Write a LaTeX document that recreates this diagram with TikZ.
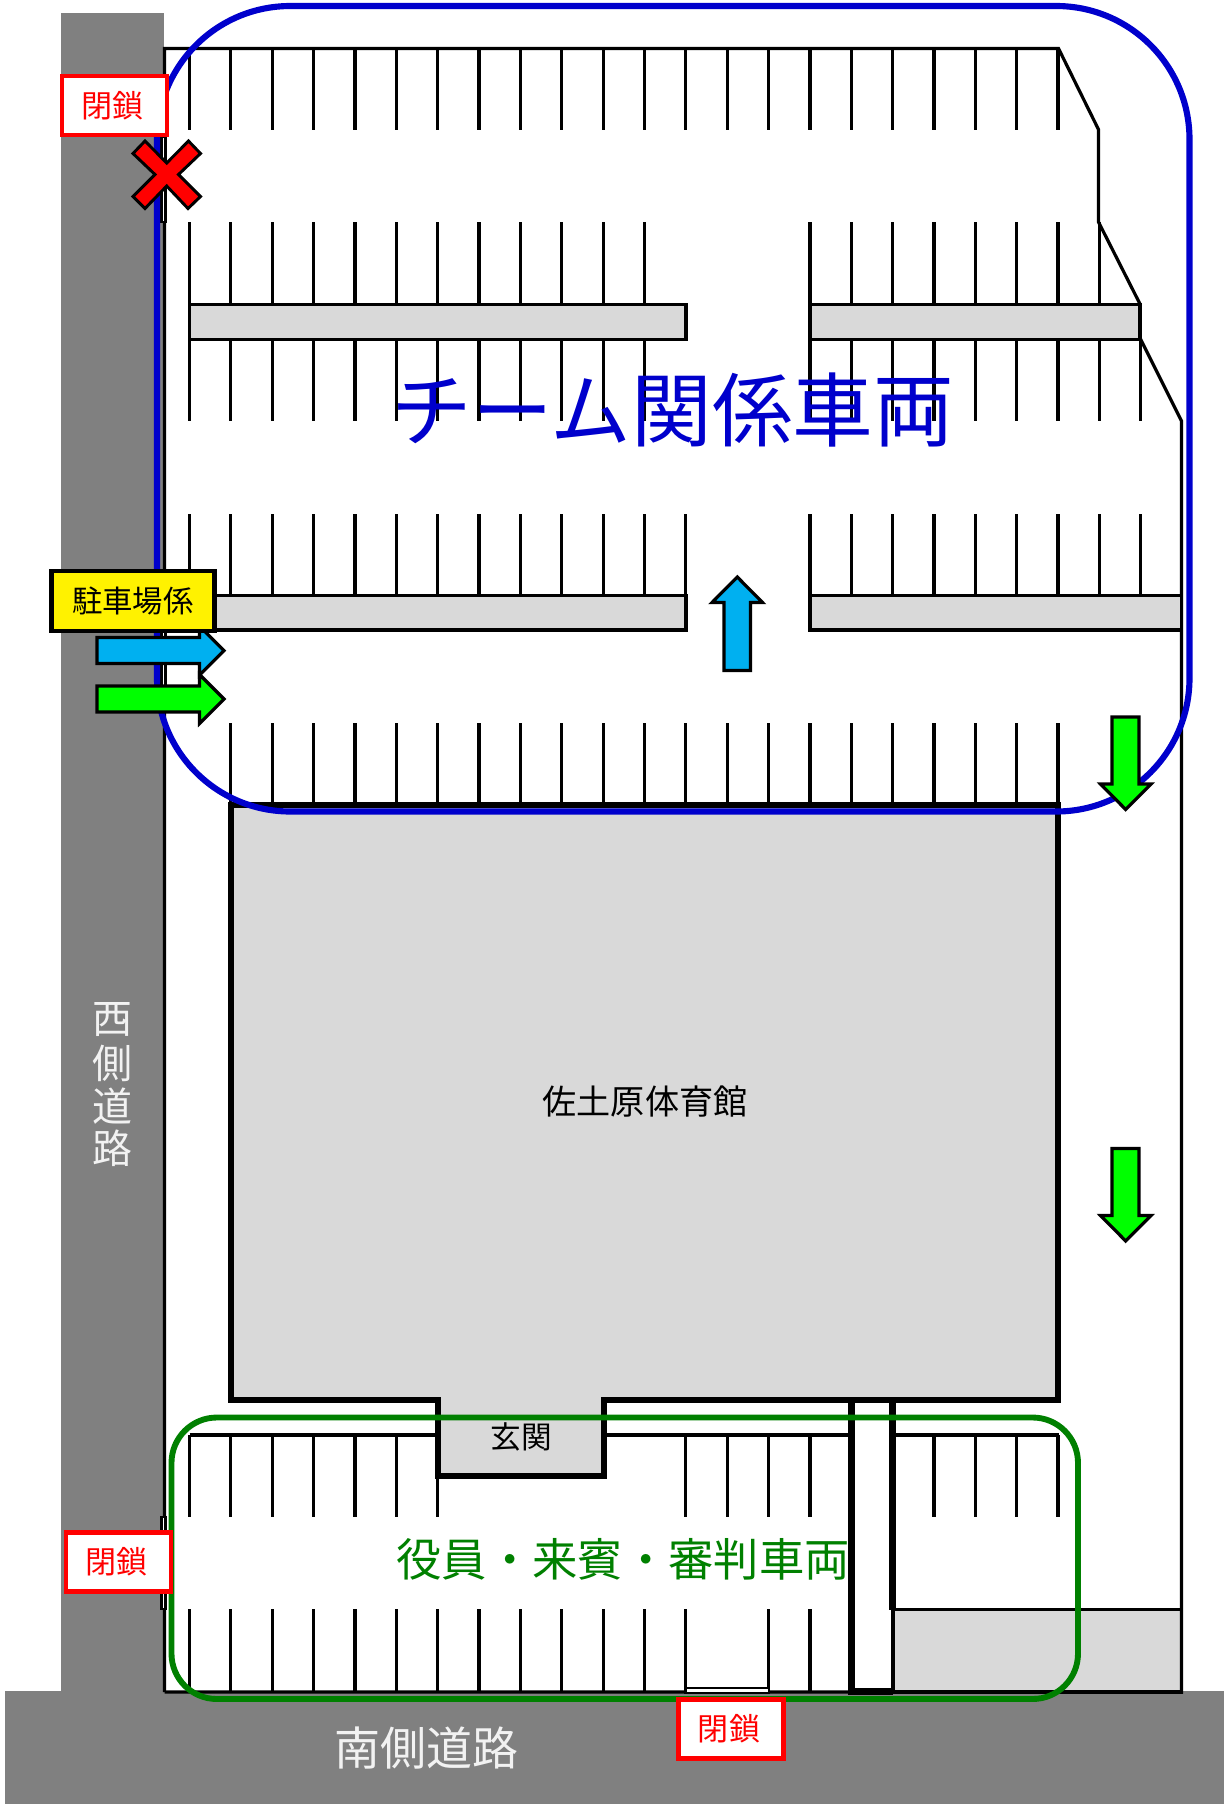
\documentclass[tikz,border=0pt]{standalone}
\usepackage{fontspec}
\setmainfont{Noto Sans CJK JP}
\definecolor{roadgray}{HTML}{808080}
\definecolor{lightfill}{HTML}{D9D9D9}
\definecolor{teamblue}{HTML}{0000CC}
\definecolor{vipgreen}{HTML}{008000}
\definecolor{arrowblue}{HTML}{00B0F0}
\definecolor{arrowgreen}{HTML}{00FF00}
\definecolor{roadtext}{HTML}{F2F2F2}
\newcommand{\fs}[1]{\fontsize{#1}{#1}\selectfont}
\tikzset{
  lot/.style={draw=black,line width=2.4pt},
  heavy/.style={draw=black,line width=4.8pt},
  road/.style={fill=roadgray,draw=none},
  median/.style={fill=lightfill,draw=black,line width=2.4pt},
  flow/.style={draw=black,line width=2.4pt},
  gate/.style={fill=white,draw=black,line width=2pt},
  closed/.style={draw=red,line width=3.6pt,fill=white,minimum width=78.75pt,minimum height=44.25pt,inner sep=0pt,text=red,font=\fs{23.3}},
  plain/.style={inner sep=0pt}
}
\newcommand{\stalls}[3]{\foreach \k in {#1} \draw[lot] ({189.5+41.36*\k},#2) -- ({189.5+41.36*\k},#3);}
\begin{document}
\begin{tikzpicture}[x=0.75pt,y=-0.75pt]
\useasboundingbox (0,0) rectangle (1224,1804);
% roads
\fill[road] (61,13) rectangle (164,1692);
\fill[road] (5,1691) rectangle (1224,1804);
% lower right paved area
\draw[median] (893,1609.5) rectangle (1181.5,1692);
% lot outline
\draw[lot,line join=miter] (164.5,1692) -- (164.5,48.5) -- (1058.5,48.5) -- (1098.5,129.5) -- (1098.5,222) -- (1140,304);
\draw[lot] (1140,338) -- (1181.5,421) -- (1181.5,1692) -- (164.5,1692);
% stall rows
\stalls{0,...,21}{48}{130}
\stalls{0,...,11}{222}{304}
\stalls{15,...,22}{222}{304}
\stalls{0,...,11}{339}{421}
\stalls{15,...,23}{339}{421}
\stalls{0,...,11}{514}{596}
\stalls{12,15}{514}{632}
\stalls{16,...,23}{514}{596}
\stalls{1,...,21}{723}{804}
% medians
\draw[median] (189.5,304.5) rectangle (686,339.5);
\draw[median] (810,304.5) rectangle (1140,339.5);
\draw[median] (189.5,595.5) rectangle (686,630);
\draw[median] (810,595.5) rectangle (1181.5,630);
% south block
\draw[lot] (189.5,1435) -- (438,1435);
\draw[lot] (604,1435) -- (852,1435);
\draw[lot] (893,1435) -- (1058.5,1435);
\stalls{0,...,6}{1435}{1517}
\stalls{12,...,15}{1435}{1517}
\stalls{18,...,21}{1435}{1517}
\stalls{0,...,12}{1609}{1692}
\stalls{14,15}{1609}{1692}
% gates
\draw[gate] (161.5,137) rectangle (165.5,222);
\draw[gate] (161.5,630) rectangle (165.5,712);
\draw[gate] (161.5,1517) rectangle (165.5,1609);
\draw[gate] (685.5,1688) rectangle (769,1693);
% building
\draw[heavy,fill=lightfill,line join=miter] (231,805) -- (1058,805) -- (1058,1400) -- (604,1400) -- (604,1476) -- (438,1476) -- (438,1400) -- (231,1400) -- cycle;
% corridor
\draw[heavy,fill=white] (851.5,1400) -- (851.5,1691.5) -- (892.5,1691.5);
\draw[heavy] (892.5,1400) -- (892.5,1610);
\draw[lot] (892.5,1610) -- (892.5,1691);
% zones
\draw[teamblue,line width=4.6pt,rounded corners=100pt] (157,6) rectangle (1189.5,811.5);
\draw[vipgreen,line width=4.4pt,rounded corners=34pt] (171.5,1417.5) rectangle (1078,1699);
% flow arrows
\draw[flow,fill=arrowblue] (97,637.5) -- (199.5,637.5) -- (199.5,626) -- (224,650.7) -- (199.5,675) -- (199.5,663.5) -- (97,663.5) -- cycle;
\draw[flow,fill=arrowgreen] (97,686) -- (199.5,686) -- (199.5,674.5) -- (224,699) -- (199.5,723.5) -- (199.5,712) -- (97,712) -- cycle;
\draw[flow,fill=arrowblue] (724,670.5) -- (724,602.5) -- (712,602.5) -- (737.3,577) -- (762.5,602.5) -- (750.5,602.5) -- (750.5,670.5) -- cycle;
\draw[flow,fill=arrowgreen] (1112,717) -- (1112,784) -- (1100.5,784) -- (1125.7,809.5) -- (1151,784) -- (1139,784) -- (1139,717) -- cycle;
\draw[flow,fill=arrowgreen] (1112,1148.5) -- (1112,1215.5) -- (1100.5,1215.5) -- (1125.7,1241) -- (1151,1215.5) -- (1139,1215.5) -- (1139,1148.5) -- cycle;
% closed-entry cross
\draw[draw=black,line width=2.2pt,fill=red,line join=miter] (145,141) -- (166.7,163) -- (188.5,141) -- (200.5,153.5) -- (178.5,174.5) -- (200.5,196.5) -- (188,208.5) -- (166.7,186) -- (145,208.5) -- (133,196.5) -- (155,174.5) -- (133,153.5) -- cycle;
% labels
\node[closed] (closedW) at (114.5,105.5) {\kern-3pt 閉鎖};
\node[closed] (closedSW) at (118.5,1562) {\kern-3pt 閉鎖};
\node[closed] (closedS) at (731,1729) {\kern-3pt 閉鎖};
\node[draw=black,line width=3.6pt,fill=yellow,minimum width=122pt,minimum height=45pt,inner sep=0pt,font=\fs{22.8}] (staff) at (133,601) {駐車場係};
\node[plain,text=teamblue,font=\fs{60.5}] (team) at (673,410) {チーム関係車両};
\node[plain,text=vipgreen,font=\fs{34}] (vip) at (623,1559) {役員・来賓・審判車両};
\node[plain,font=\fs{25.6}] (gym) at (645,1101) {佐土原体育館};
\node[plain,font=\fs{23}] (hall) at (521.5,1437) {玄関};
\node[plain,text=roadtext,font=\fs{34.5}] (south) at (426,1748) {南側道路};
\node[plain,text=roadtext,font=\fs{30}] (w1) at (112,1020) {西};
\node[plain,text=roadtext,font=\fs{30}] (w2) at (112,1063) {側};
\node[plain,text=roadtext,font=\fs{30}] (w3) at (112,1106) {道};
\node[plain,text=roadtext,font=\fs{30}] (w4) at (112,1148) {路};
\end{tikzpicture}
\end{document}
